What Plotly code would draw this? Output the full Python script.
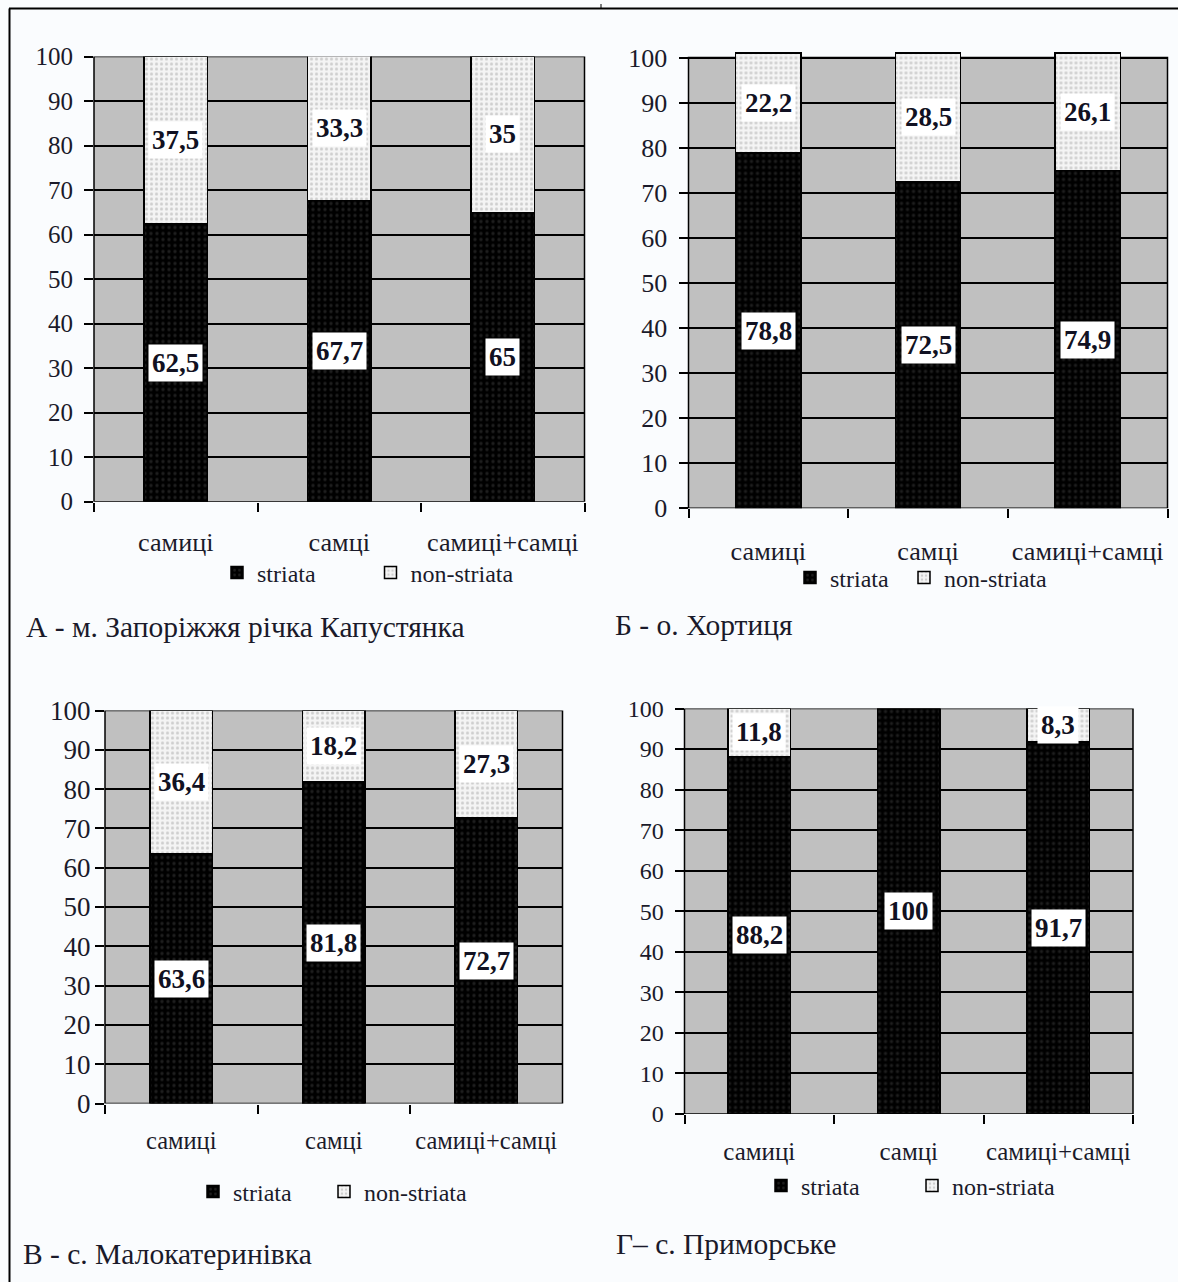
import plotly.graph_objects as go

W, H = 1178, 1282

categories = ["самиці", "самці", "самиці+самці"]

striata_A = [62.5, 67.7, 65]
non_striata_A = [37.5, 33.3, 35]
striata_B = [78.8, 72.5, 74.9]
non_striata_B = [22.2, 28.5, 26.1]
striata_C = [63.6, 81.8, 72.7]
non_striata_C = [36.4, 18.2, 27.3]
striata_D = [88.2, 100, 91.7]
non_striata_D = [11.8, 0, 8.3]

captions = ["А - м. Запоріжжя річка Капустянка", "Б - о. Хортиця",
            "В - с. Малокатеринівка", "Г– с. Приморське"]
series_names = ["striata", "non-striata"]
y_ticks = list(range(0, 101, 10))

FONT = "Liberation Serif"
TXT = "#1a1a2a"

panels = [
    dict(s=striata_A, n=non_striata_A, left=94, right=584.5, y0=501.7, y100=56.5, ymax=100,
         bw=0.39, leg=[(239, 573), (392.5, 573)], cx=24, cy=627, cap=captions[0],
         yfs=25, yso=6, xfs=26.2, xso=22),
    dict(s=striata_B, n=non_striata_B, left=688.5, right=1167.5, y0=508.3, y100=57.6, ymax=101.6,
         bw=0.41, leg=[(812, 578), (926, 578)], cx=613, cy=625, cap=captions[1],
         yfs=26, yso=6, xfs=26.2, xso=24),
    dict(s=striata_C, n=non_striata_C, left=105, right=562.5, y0=1103.5, y100=710.5, ymax=100,
         bw=0.41, leg=[(215, 1192), (346, 1192)], cx=21, cy=1254, cap=captions[2],
         yfs=27, yso=-1, xfs=24.5, xso=20),
    dict(s=striata_D, n=non_striata_D, left=684.5, right=1133, y0=1114, y100=708.5, ymax=100,
         bw=0.42, leg=[(783, 1186), (934, 1186)], cx=614, cy=1244, cap=captions[3],
         yfs=24, yso=6, xfs=25, xso=20),
]

fig = go.Figure()
layout = dict(
    width=W, height=H, margin=dict(l=0, r=0, t=0, b=0, autoexpand=False),
    paper_bgcolor="#fafcfe", plot_bgcolor="rgba(0,0,0,0)",
    barmode="stack", showlegend=True,
    font=dict(family=FONT, color="black", size=22),
)
shapes = []
annotations = []

styles = [
    dict(color="#000000", line=dict(color="black", width=1.5),
         pattern=dict(shape=".", fgcolor="#3c3c3c", bgcolor="#000000", size=6, solidity=0.25)),
    dict(color="#eeeeee", line=dict(color="black", width=1.5),
         pattern=dict(shape=".", fgcolor="#a8a8a8", bgcolor="#f4f4f4", size=5, solidity=0.3)),
]

leg_idx = 0
for i, p in enumerate(panels):
    k = "" if i == 0 else str(i + 1)
    xa, ya = "x" + k, "y" + k
    pxu = (p["y0"] - p["y100"]) / 100.0
    ytop = p["y0"] - p["ymax"] * pxu
    for t, vals in enumerate((p["s"], p["n"])):
        leg_idx += 1
        lname = "legend" if leg_idx == 1 else "legend%d" % leg_idx
        fig.add_trace(go.Bar(
            x=categories, y=vals, name=series_names[t], xaxis=xa, yaxis=ya, legend=lname,
            width=p["bw"], marker=styles[t], hoverinfo="skip",
        ))
        sx, sy = p["leg"][t]
        layout[lname] = dict(
            x=(sx - 22) / W, y=1 - sy / H, xanchor="left", yanchor="middle",
            orientation="h", font=dict(family=FONT, size=24, color=TXT),
            bgcolor="rgba(0,0,0,0)", itemwidth=30, borderwidth=0,
        )
    layout["xaxis" + k] = dict(
        domain=[p["left"] / W, p["right"] / W], anchor=ya, automargin=False,
        type="category", tickson="boundaries", ticks="outside", ticklen=9, tickangle=0,
        tickwidth=1.5, tickcolor="black", showline=False, showgrid=False, zeroline=False,
        tickfont=dict(family=FONT, size=p["xfs"], color=TXT), ticklabelstandoff=p["xso"],
        fixedrange=True,
    )
    layout["yaxis" + k] = dict(
        domain=[1 - p["y0"] / H, 1 - ytop / H], anchor=xa, automargin=False,
        range=[0, p["ymax"]], tickvals=y_ticks, ticks="outside", ticklen=9,
        tickwidth=1.5, tickcolor="black", showline=False, showgrid=True,
        gridcolor="black", gridwidth=1.5, zeroline=False,
        tickfont=dict(family=FONT, size=p["yfs"], color=TXT), ticklabelstandoff=p["yso"],
        fixedrange=True,
    )
    shapes.append(dict(type="rect", xref=xa + " domain", yref=ya, x0=0, x1=1, y0=0, y1=100,
                       fillcolor="#c0c0c0", line=dict(color="black", width=1.5), layer="below"))
    for j, c in enumerate(categories):
        s, n = p["s"][j], p["n"][j]
        for val, lo in ((s, 0), (n, s)):
            if val <= 0:
                continue
            hi = lo + val if p["ymax"] > 100 else min(lo + val, 100)
            annotations.append(dict(
                x=c, y=(lo + hi) / 2, xref=xa, yref=ya, showarrow=False,
                text="<b>" + ("%g" % val).replace(".", ",") + "</b>",
                font=dict(family=FONT, size=27, color="#111122"),
                bgcolor="white", borderpad=3,
            ))
    annotations.append(dict(
        x=p["cx"] / W, y=1 - p["cy"] / H, xref="paper", yref="paper", xanchor="left",
        yanchor="middle", showarrow=False, text=p["cap"],
        font=dict(family=FONT, size=29.5, color=TXT),
    ))

shapes.append(dict(type="line", xref="paper", yref="paper", x0=9 / W, x1=1, y0=1 - 8.5 / H,
                   y1=1 - 8.5 / H, line=dict(color="black", width=2)))
shapes.append(dict(type="line", xref="paper", yref="paper", x0=9.5 / W, x1=9.5 / W, y0=0,
                   y1=1 - 8.5 / H, line=dict(color="black", width=2)))
shapes.append(dict(type="line", xref="paper", yref="paper", x0=601 / W, x1=601 / W,
                   y0=1 - 8.5 / H, y1=1 - 4 / H, line=dict(color="black", width=1)))

layout["shapes"] = shapes
layout["annotations"] = annotations
fig.update_layout(**layout)
fig.write_html("out.html", config={"displayModeBar": False},
               post_script="document.body.style.margin='0';document.body.style.overflow='hidden';")
